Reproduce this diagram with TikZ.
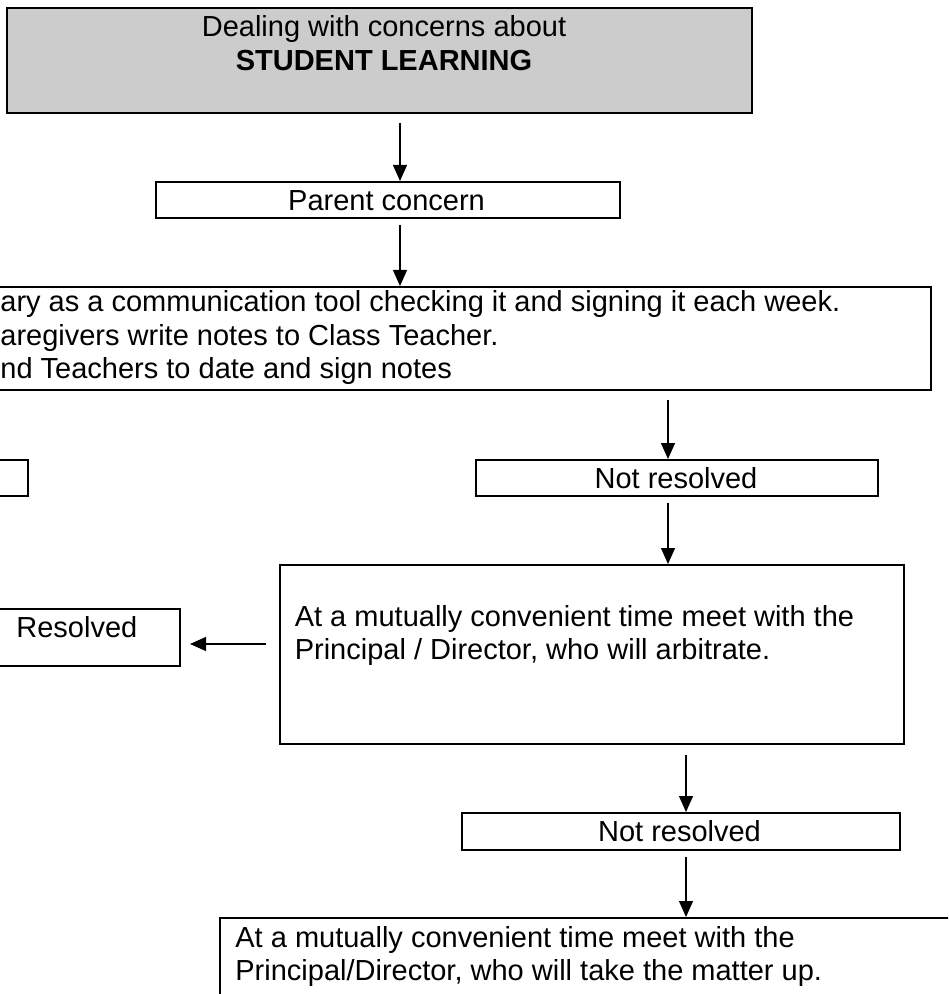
\documentclass[tikz,border=0pt]{standalone}
\usepackage{fontspec}
\setmainfont{Liberation Sans}
\usepackage{xcolor}
\definecolor{header-gray}{RGB}{204,204,204}
\usetikzlibrary{arrows.meta,positioning}
\newcommand{\flowfont}{\fontsize{14.5}{16.5}\selectfont}

\begin{document}
\begin{tikzpicture}[
    x=0.5pt, y=-0.5pt,
    flow box/.style={
        draw=black,
        line width=1pt,
        fill=white,
        inner sep=0pt
    },
    flow text/.style={
        font=\flowfont,
        inner sep=0pt
    },
    flow arrow/.style={
        draw=black,
        line width=0.6pt,
        -{Triangle[length=8pt,width=7pt]}
    }
]

% Page frame (the reference is cropped on the left)
\useasboundingbox (0,0) rectangle (948,994);
\fill[white] (0,0) rectangle (948,994);
\clip (0,0) rectangle (948,994);

% === HEADER ===
\node[flow box, fill=header-gray, minimum width=372.5pt, minimum height=52.5pt] (header) at (379.5,60.5) {};
\node[flow text, anchor=base] at ([xshift=2.25pt,yshift=-14.75pt]header.north) {Dealing with concerns about};
\node[flow text, anchor=base, font=\flowfont\bfseries] at ([xshift=2.25pt,yshift=-32pt]header.north) {STUDENT LEARNING};

% Parent concern
\node[flow box, minimum width=232pt, minimum height=18pt] (parent) at (388,200) {};
\node[flow text, anchor=base] at ([xshift=-0.75pt,yshift=-5.3pt]parent.center) {Parent concern};

% Diary box
\node[flow box, minimum width=495.5pt, minimum height=51.5pt] (diary) at (435.5,338.5) {};
\node[flow text, anchor=base west] at (0,312) {ary as a communication tool checking it and signing it each week.};
\node[flow text, anchor=base west] at (0,345) {aregivers write notes to Class Teacher.};
\node[flow text, anchor=base west] at (0,378) {nd Teachers to date and sign notes};

% === BRANCHES ===
% Left branch (cut off)
\node[flow box, minimum width=44pt, minimum height=18pt] (leftcut) at (-16,478) {};

% Not resolved 1
\node[flow box, minimum width=201pt, minimum height=18pt] (notres1) at (677,478) {};
\node[flow text, anchor=base] at ([xshift=-0.5pt,yshift=-5pt]notres1.center) {Not resolved};

% Meeting to arbitrate
\node[flow box, minimum width=312pt, minimum height=89.5pt] (meet1) at (592,654.5) {};
\node[flow text, anchor=base west] at ([xshift=7.7pt,yshift=-31pt]meet1.north west) {At a mutually convenient time meet with the};
\node[flow text, anchor=base west] at ([xshift=7.7pt,yshift=-47.5pt]meet1.north west) {Principal / Director, who will arbitrate.};

% Resolved
\node[flow box, minimum width=120pt, minimum height=28.5pt] (resolved) at (60,637.5) {};
\node[flow text, anchor=base west] at (16,637) {Resolved};

% Not resolved 2
\node[flow box, minimum width=219pt, minimum height=18.5pt] (notres2) at (681,831.5) {};
\node[flow text, anchor=base] at ([xshift=-0.75pt,yshift=-5pt]notres2.center) {Not resolved};

% Final meeting
\node[flow box, minimum width=395pt, minimum height=71pt] (meet2) at (615,989) {};
\node[flow text, anchor=base west] at ([xshift=8pt,yshift=-15pt]meet2.north west) {At a mutually convenient time meet with the};
\node[flow text, anchor=base west] at ([xshift=8pt,yshift=-31.5pt]meet2.north west) {Principal/Director, who will take the matter up.};

% === ARROWS ===
\coordinate (a1) at (400,123);
\coordinate (a2) at (400,225);
\coordinate (a3) at (668,400);
\coordinate (a4) at (668,503);
\coordinate (a5) at (686,755);
\coordinate (a6) at (686,857);
\coordinate (a7) at (266,644);
\draw[flow arrow] (a1) -- (a1 |- parent.north);
\draw[flow arrow] (a2) -- (a2 |- diary.north);
\draw[flow arrow] (a3) -- (a3 |- notres1.north);
\draw[flow arrow] (a4) -- (a4 |- meet1.north);
\draw[flow arrow] (a5) -- (a5 |- notres2.north);
\draw[flow arrow] (a6) -- (a6 |- meet2.north);
\draw[flow arrow, shorten >=4.5pt] (a7) -- (a7 -| resolved.east);

\end{tikzpicture}
\end{document}
